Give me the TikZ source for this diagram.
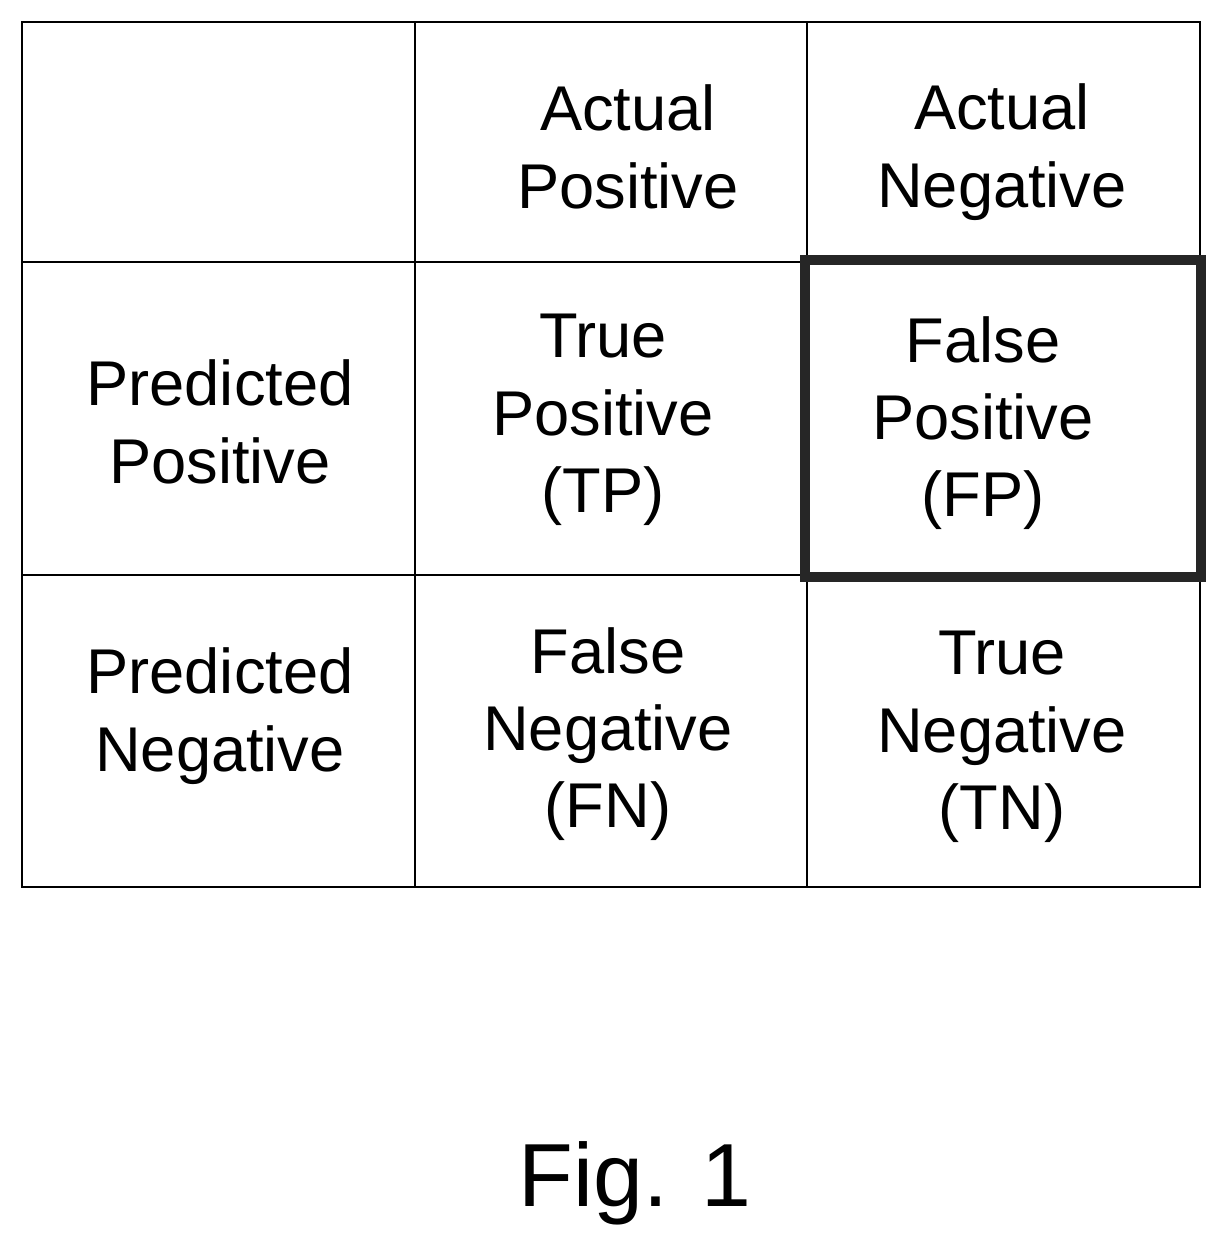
\documentclass[tikz,border=0pt]{standalone}
\usepackage{fontspec}
\setmainfont{Liberation Sans}
\usepackage{tikz}
\begin{document}
\begin{tikzpicture}[x=0.02cm,y=-0.02cm]
\tikzset{cell/.style={align=center,font=\fontsize{36}{44}\selectfont}}
\useasboundingbox (0,0) rectangle (1231,1259);

% grid
\draw [black, thick] (22,22) rectangle (1200,887);
\draw [black, thick] (415,22) -- (415,887);
\draw [black, thick] (807,22) -- (807,887);
\draw [black, thick] (22,262) -- (1200,262);
\draw [black, thick] (22,575) -- (1200,575);

% highlighted cell
\draw [black!85, line width=6pt] (805,260) rectangle (1201,577);

\node (ap) at (628,147) [cell] {Actual\\Positive};
\node (an) at (1002,152) [cell] {Actual\\Negative};
\node (pp) at (220,422) [cell] {Predicted\\Positive};
\node (tp) at (603,420) [cell] {True\\Positive\\(TP)};
\node (fp) at (983,423) [cell] {False\\Positive\\(FP)};
\node (pn) at (220,716) [cell] {Predicted\\Negative};
\node (fn) at (608,734) [cell] {False\\Negative\\(FN)};
\node (tn) at (1002,737) [cell] {True\\Negative\\(TN)};

\node (fig) at (635,1183) [font=\fontsize{51}{60}\selectfont] {Fig. 1};

\end{tikzpicture}
\end{document}
